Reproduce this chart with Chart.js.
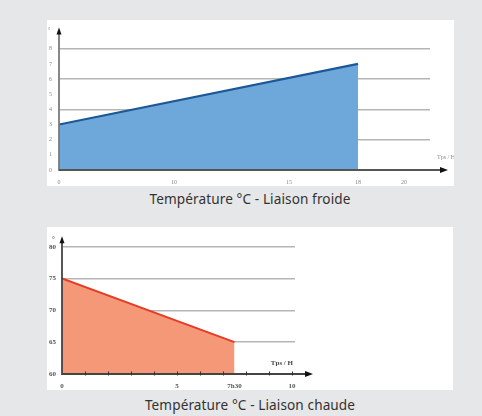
<!DOCTYPE html>
<html><head><meta charset="utf-8">
<script src="https://cdn.jsdelivr.net/npm/chart.js@4/dist/chart.umd.min.js"></script>
<style>
html,body{margin:0;padding:0;background:#e6e7e8;width:482px;height:416px;overflow:hidden;font-family:"Noto Sans",sans-serif}
.panel{position:absolute;background:#fff}
#p1{left:47px;top:20px;width:407px;height:166px}
#p2{left:47px;top:227px;width:406px;height:163px}
.cap{position:absolute;left:0;width:500px;text-align:center;font-size:13.6px;line-height:16px;color:#333;letter-spacing:0.1px}
canvas{display:block}
</style></head><body>
<div class="panel" id="p1"><canvas id="c1" width="407" height="166"></canvas></div>
<div class="cap" style="top:191px">Température °C - Liaison froide</div>
<div class="panel" id="p2"><canvas id="c2" width="406" height="163"></canvas></div>
<div class="cap" style="top:397px">Température °C - Liaison chaude</div>
<script>
// ---- Data: cold link (Liaison froide)
const coldX = [5, 18];
const coldY = [3, 7];
const coldXTickPos = [5, 10, 15, 18, 20];
const coldXTickLabels = ['0', '10', '15', '18', '20'];
const coldYTicks = [0, 1, 2, 3, 4, 5, 6, 7, 8];
const coldYGrid = [2, 4, 6, 8];

// ---- Data: hot link (Liaison chaude)
const hotX = [0, 7.5];
const hotY = [75, 65];
const hotXTickPos = [0, 5, 7.5, 10];
const hotXTickLabels = ['0', '5', '7h30', '10'];
const hotXMinor = [1, 2, 3, 4, 5, 6, 7, 8, 9, 10];
const hotYTicks = [60, 65, 70, 75, 80];
const hotYGrid = [65, 70, 75, 80];

const axisPlugin = {
  id: 'axesArrows',
  afterDraw(chart, args, o) {
    const {ctx, chartArea: a, scales: {x, y}} = chart;
    const y0 = y.getPixelForValue(y.min);
    const x0 = x.getPixelForValue(x.min);
    ctx.save();
    ctx.lineWidth = o.width;
    // y axis
    ctx.strokeStyle = o.yColor;
    ctx.beginPath(); ctx.moveTo(x0, y0 + 1); ctx.lineTo(x0, a.top - o.yTip + 5); ctx.stroke();
    ctx.fillStyle = '#111';
    ctx.beginPath(); ctx.moveTo(x0, a.top - o.yTip); ctx.lineTo(x0 - 2.5, a.top - o.yTip + 7); ctx.lineTo(x0 + 2.5, a.top - o.yTip + 7); ctx.closePath(); ctx.fill();
    // x axis
    const tip = a.right + o.xExt;
    ctx.strokeStyle = o.xColor;
    ctx.beginPath(); ctx.moveTo(x0, y0); ctx.lineTo(tip - 5, y0); ctx.stroke();
    ctx.beginPath(); ctx.moveTo(tip, y0); ctx.lineTo(tip - 8, y0 - 3); ctx.lineTo(tip - 8, y0 + 3); ctx.closePath(); ctx.fill();
    // minor ticks
    if (o.minor) {
      ctx.strokeStyle = '#333'; ctx.lineWidth = 1;
      o.minor.forEach(v => {
        const px = Math.round(x.getPixelForValue(v)) + 0.5;
        ctx.beginPath(); ctx.moveTo(px, y0 - 2.5); ctx.lineTo(px, y0 + 1.5); ctx.stroke();
      });
    }
    // labels
    ctx.fillStyle = o.textColor;
    ctx.font = o.font;
    ctx.textBaseline = 'middle';
    ctx.textAlign = 'right';
    ctx.fillText('Tps / H', a.right + o.tpsDx, y0 + o.tpsDy);
    ctx.textAlign = 'left';
    ctx.fillText('°', o.degX, a.top - o.yTip + 3);
    ctx.restore();
  }
};

function makeChart(id, cfg) {
  return new Chart(document.getElementById(id), {
    type: 'line',
    data: {
      datasets: [{
        data: cfg.xs.map((v, i) => ({x: v, y: cfg.ys[i]})),
        borderColor: cfg.line,
        backgroundColor: cfg.fillCol,
        borderWidth: cfg.lw,
        fill: 'origin',
        pointRadius: 0,
        tension: 0
      }]
    },
    options: {
      responsive: false,
      animation: false,
      layout: {padding: {left: 0, right: cfg.padR, top: cfg.padT, bottom: 0}},
      plugins: {legend: {display: false}, tooltip: {enabled: false}, axesArrows: cfg.axes},
      scales: {
        x: {
          type: 'linear', min: cfg.xMin, max: cfg.xMax,
          afterBuildTicks: s => { s.ticks = cfg.xTicks.map(v => ({value: v})); },
          afterFit: s => { s.height = 16; },
          grid: {display: false, drawTicks: false},
          border: {display: false},
          ticks: {
            autoSkip: false, maxRotation: 0, padding: cfg.xPad,
            font: cfg.tickFont, color: cfg.tickColor,
            callback: v => { const i = cfg.xTicks.indexOf(v); return i >= 0 ? cfg.xLabels[i] : ''; }
          }
        },
        y: {
          type: 'linear', min: cfg.yMin, max: cfg.yMax, z: 1,
          afterBuildTicks: s => { s.ticks = cfg.yTicks.map(v => ({value: v})); },
          afterFit: s => { s.width = cfg.yWidth; },
          border: {display: false},
          grid: {
            drawTicks: false, lineWidth: 1.6,
            color: c => cfg.yGrid.includes(c.tick.value) ? 'rgba(120,120,120,0.55)' : 'rgba(0,0,0,0)'
          },
          ticks: {padding: cfg.yPad, font: cfg.tickFont, color: cfg.tickColor, callback: v => String(v)}
        }
      }
    },
    plugins: [axisPlugin]
  });
}

makeChart('c1', {
  xs: coldX, ys: coldY, line: '#1c5796', fillCol: '#6ea7da', lw: 2.2,
  xMin: 5, xMax: 21.13, yMin: 0, yMax: 9.2,
  xTicks: coldXTickPos, xLabels: coldXTickLabels, yTicks: coldYTicks, yGrid: coldYGrid,
  padR: 24, padT: 5, yWidth: 12, yPad: 7, xPad: 9,
  tickFont: {family: 'Liberation Serif', size: 6}, tickColor: '#8a8a8a',
  axes: {width: 1.8, yColor: '#7a7a7a', xColor: '#555', xExt: 18, yTip: 3,
         tpsDx: 25, tpsDy: -13, degX: 1, textColor: '#8a8a8a', font: '6px "Liberation Serif"'}
});

makeChart('c2', {
  xs: hotX, ys: hotY, line: '#e63b25', fillCol: '#f49878', lw: 2,
  xMin: 0, xMax: 10.13, yMin: 60, yMax: 81.5,
  xTicks: hotXTickPos, xLabels: hotXTickLabels, yTicks: hotYTicks, yGrid: hotYGrid,
  padR: 158, padT: 7, yWidth: 15, yPad: 6, xPad: 8,
  tickFont: {family: 'Liberation Serif', size: 7, weight: 'bold'}, tickColor: '#555',
  axes: {width: 1.8, yColor: '#444', xColor: '#444', xExt: 18, yTip: 1, minor: hotXMinor,
         tpsDx: -2, tpsDy: -11, degX: 5, textColor: '#444', font: 'bold 7px "Liberation Serif"'}
});
</script>
</body></html>
